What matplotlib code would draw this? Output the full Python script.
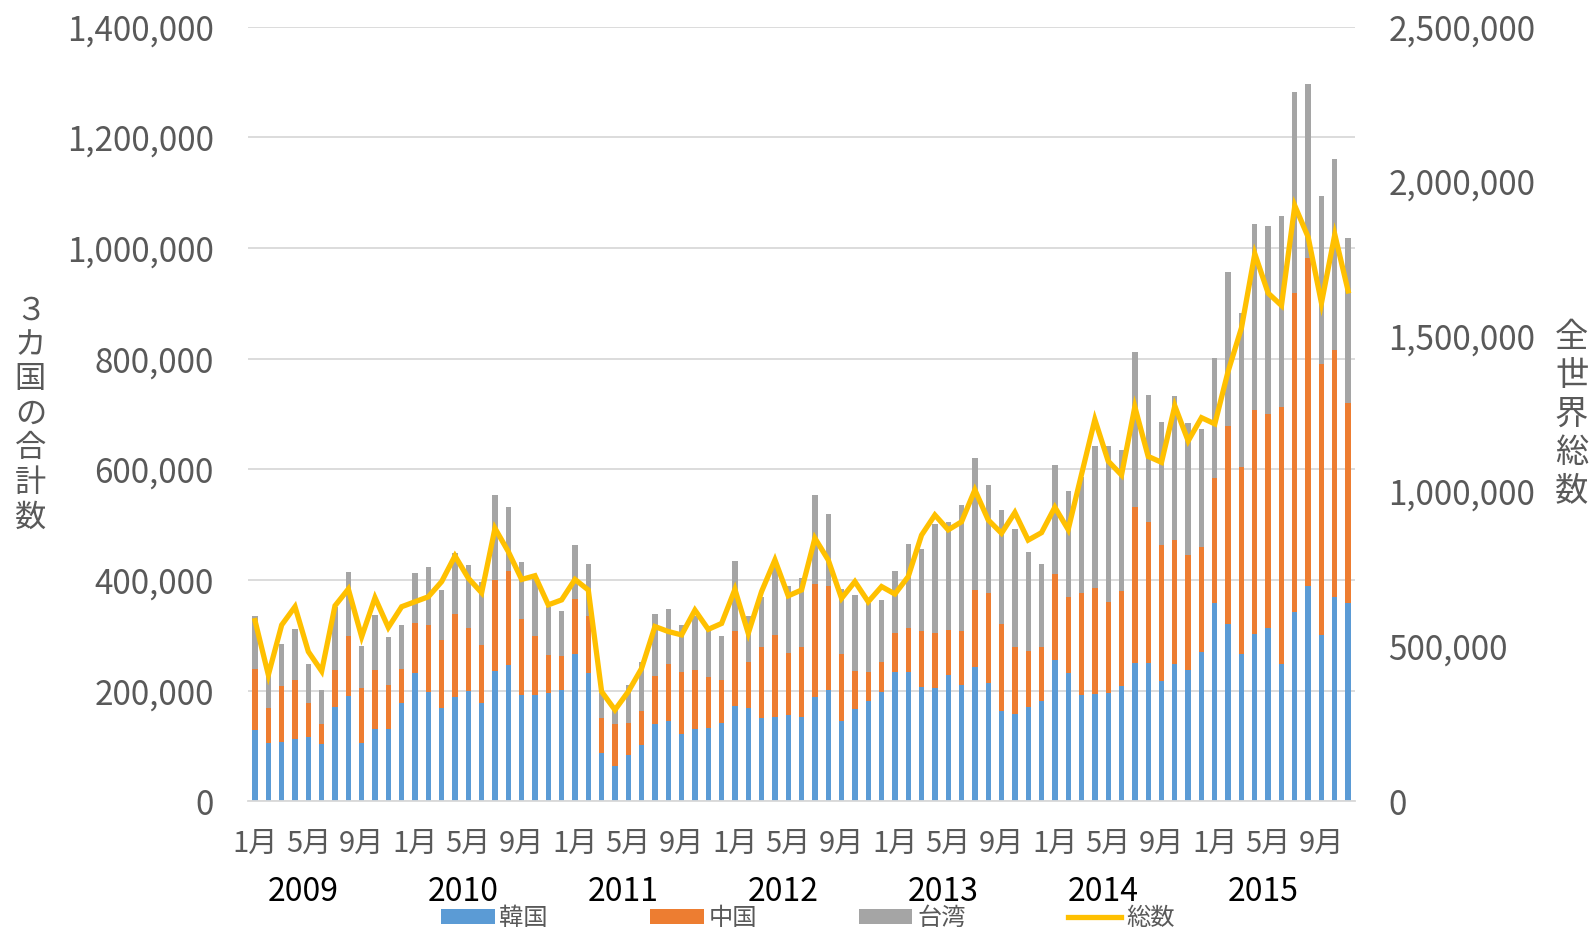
import numpy as np
import matplotlib
matplotlib.use("Agg")
import matplotlib.pyplot as plt
from matplotlib.ticker import FuncFormatter, MultipleLocator
from matplotlib.transforms import blended_transform_factory

plt.rcParams['font.family'] = ['Noto Sans CJK JP', 'DejaVu Sans']

# monthly visitors, Jan 2009 - Nov 2015 (thousands)
years = ['2009', '2010', '2011', '2012', '2013', '2014', '2015']
month_names = ['1月', '5月', '9月']

korea = [129, 106, 108, 113, 117, 103, 170, 190, 105, 130, 130, 177,
         231, 197, 168, 189, 200, 178, 236, 246, 193, 193, 196, 202,
         267, 231, 88, 63, 83, 102, 139, 146, 121, 131, 133, 141,
         172, 168, 150, 152, 156, 152, 189, 201, 145, 167, 182, 198,
         233, 233, 206, 204, 228, 210, 243, 214, 164, 157, 170, 182,
         255, 232, 192, 194, 195, 208, 250, 250, 217, 249, 238, 270,
         358, 320, 267, 303, 313, 249, 342, 390, 300, 369, 358]
china = [110, 63, 101, 106, 60, 37, 68, 109, 99, 108, 81, 63,
         92, 121, 124, 150, 114, 104, 164, 171, 137, 106, 68, 60,
         99, 104, 63, 76, 58, 62, 87, 103, 113, 107, 92, 79,
         136, 83, 128, 148, 112, 127, 204, 189, 122, 69, 52, 53,
         72, 81, 102, 100, 81, 98, 139, 163, 156, 121, 102, 96,
         155, 137, 184, 191, 165, 172, 282, 255, 247, 223, 208, 190,
         226, 358, 338, 405, 387, 463, 577, 591, 490, 446, 362]
taiwan = [96, 63, 75, 92, 71, 61, 114, 115, 77, 99, 86, 79,
          90, 105, 89, 110, 113, 114, 153, 114, 102, 106, 88, 82,
          98, 94, 44, 26, 69, 87, 113, 99, 84, 97, 84, 78,
          127, 84, 92, 125, 121, 125, 160, 130, 117, 136, 124, 112,
          112, 151, 148, 198, 196, 228, 239, 195, 207, 214, 178, 150,
          198, 191, 210, 257, 282, 254, 280, 230, 221, 261, 237, 213,
          218, 279, 278, 336, 340, 345, 363, 315, 304, 345, 298]
world_total = [583, 408, 569, 628, 483, 420, 631, 685, 531, 657, 561, 628,
               644, 660, 709, 792, 720, 673, 881, 806, 716, 728, 634, 650,
               716, 682, 354, 295, 354, 429, 564, 548, 537, 617, 555, 574,
               684, 542, 677, 779, 663, 682, 849, 779, 655, 709, 644, 693,
               669, 725, 859, 924, 876, 902, 1005, 908, 865, 932, 843, 867,
               949, 877, 1055, 1232, 1098, 1053, 1273, 1113, 1094, 1276, 1163, 1238,
               1218, 1388, 1528, 1767, 1640, 1600, 1922, 1821, 1608, 1829, 1647]

korea = np.array(korea) * 1000
china = np.array(china) * 1000
taiwan = np.array(taiwan) * 1000
world_total = np.array(world_total) * 1000
x = np.arange(len(korea))

grey_txt = '#595959'

fig = plt.figure(figsize=(15.92, 9.31), dpi=100)
ax = fig.add_axes([0.156, 0.1393, 0.695, 0.8321])

w = 0.4
ax.bar(x, korea, w, color='#5B9BD5', label='韓国', zorder=2)
ax.bar(x, china, w, bottom=korea, color='#ED7D31', label='中国', zorder=2)
ax.bar(x, taiwan, w, bottom=korea + china, color='#A5A5A5', label='台湾', zorder=2)

ax.set_xlim(-0.5, len(x) - 0.5)
ax.set_ylim(0, 1400000)
ax.yaxis.set_major_locator(MultipleLocator(200000))
fmt = FuncFormatter(lambda v, p: f'{int(v):,}')
ax.yaxis.set_major_formatter(fmt)
ax.grid(axis='y', color='#D9D9D9', linewidth=1.3, zorder=0)
ax.set_axisbelow(True)
for s in ['top', 'left', 'right']:
    ax.spines[s].set_visible(False)
ax.spines['bottom'].set_color('#D9D9D9')
ax.spines['bottom'].set_linewidth(1.3)

ticks = [i for i in x if i % 12 in (0, 4, 8)]
ax.set_xticks(ticks)
ax.set_xticklabels([month_names[(i % 12) // 4] for i in ticks])
ax.tick_params(axis='x', length=0, pad=20, labelsize=21, labelcolor=grey_txt)
ax.tick_params(axis='y', length=0, pad=25, labelsize=24, labelcolor=grey_txt)

trans = blended_transform_factory(ax.transData, ax.transAxes)
for k, yr in enumerate(years):
    ax.text(k * 12 + 3.6, -0.117, yr, transform=trans, ha='center', va='center',
            fontsize=23, color='black')

ax.text(-0.197, 0.5, '\n'.join('３カ国の合計数'), transform=ax.transAxes,
        ha='center', va='center', fontsize=22.5, color=grey_txt, linespacing=1.1)

ax2 = ax.twinx()
ax2.plot(x, world_total, color='#FFC000', linewidth=3.8, label='総数',
         solid_joinstyle='miter', zorder=3)
ax2.set_ylim(0, 2500000)
ax2.yaxis.set_major_locator(MultipleLocator(500000))
ax2.yaxis.set_major_formatter(fmt)
ax2.tick_params(axis='y', length=0, pad=24, labelsize=24, labelcolor=grey_txt)
for s in ['top', 'left', 'right', 'bottom']:
    ax2.spines[s].set_visible(False)
ax2.text(1.196, 0.5, '\n'.join('全世界総数'), transform=ax.transAxes,
         ha='center', va='center', fontsize=24, color=grey_txt, linespacing=1.12)

h1, l1 = ax.get_legend_handles_labels()
h2, l2 = ax2.get_legend_handles_labels()
fig.legend(h1 + h2, l1 + l2, ncol=4, loc='center', bbox_to_anchor=(0.5075, 0.014),
           frameon=False, fontsize=17.5, labelcolor=grey_txt, handlelength=2.2,
           handleheight=0.6, handletextpad=0.2, columnspacing=4.2)

fig.savefig('out.png', dpi=100)
